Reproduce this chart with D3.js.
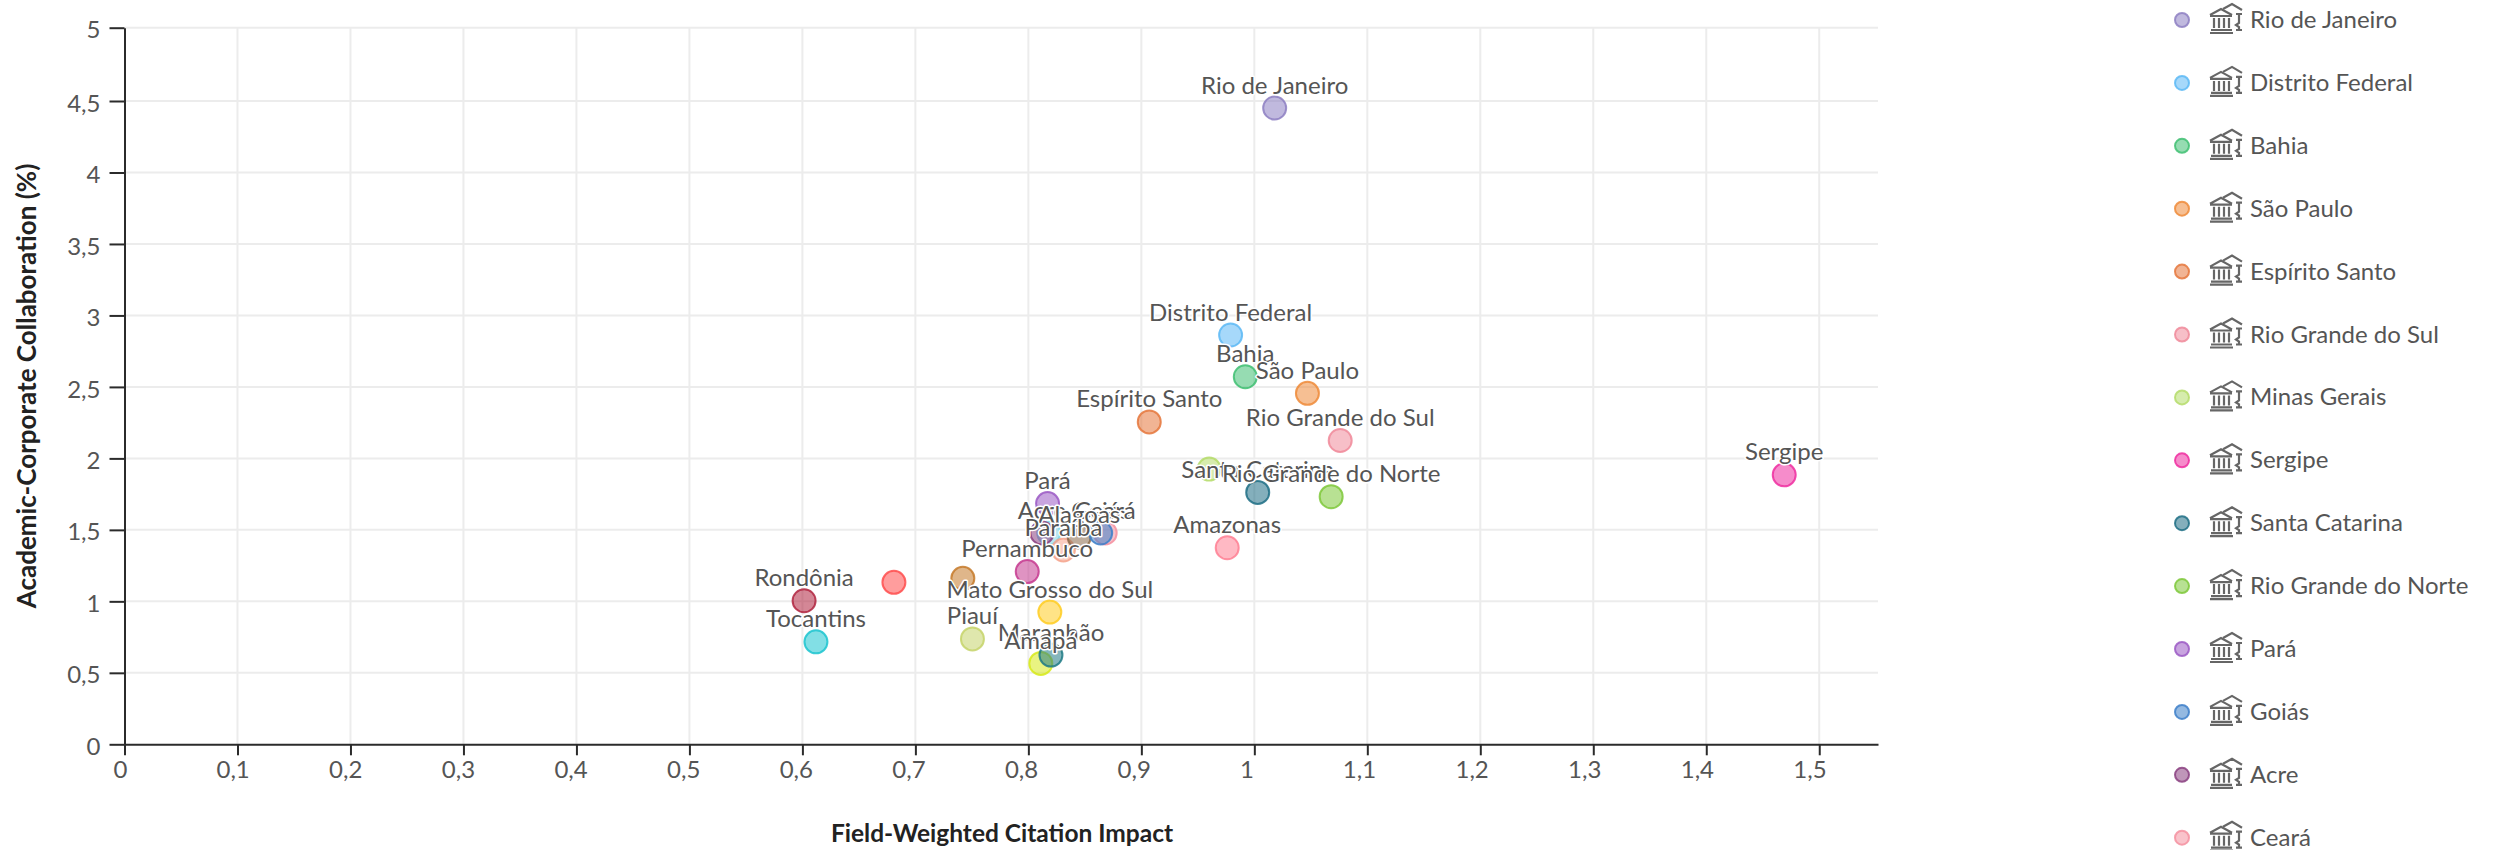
<!DOCTYPE html>
<html>
<head>
<meta charset="utf-8">
<script src="https://cdnjs.cloudflare.com/ajax/libs/d3/7.8.5/d3.min.js"></script>
<style>
  html, body { margin: 0; padding: 0; background: #fff; }
  svg { display: block; font-family: Lato, "Noto Sans", sans-serif; }
  .grid line { stroke: #ececec; stroke-width: 2; }
  .axis path, .axis line { stroke: #2b2b2b; stroke-width: 2; }
  .axis text { fill: #555; font-size: 24px; font-family: Lato, sans-serif; }
  .label { fill: #555; font-size: 24px; text-anchor: middle; paint-order: stroke; stroke: #fff; stroke-width: 3px; stroke-linejoin: round; }
  .title { fill: #222; font-weight: 700; text-anchor: middle; }
  .legend text { fill: #555; font-size: 24px; }
</style>
</head>
<body>
<div id="chart"></div>
<script>
const states = ['Rio de Janeiro', 'Distrito Federal', 'Bahia', 'São Paulo', 'Espírito Santo', 'Rio Grande do Sul', 'Minas Gerais', 'Sergipe', 'Santa Catarina', 'Rio Grande do Norte', 'Pará', 'Goiás', 'Acre', 'Ceará', 'Alagoas', 'Paraíba', 'Pernambuco', 'Amazonas', 'Rondônia', 'Tocantins', 'Mato Grosso do Sul', 'Piauí', 'Maranhão', 'Amapá', '', '', '']
// the picture hides some labels
const hiddenLabels = ['Minas Gerais']
const fwci = [1.018, 0.979, 0.992, 1.047, 0.907, 1.076, 0.96, 1.469, 1.003, 1.068, 0.817, 0.864, 0.812, 0.868, 0.845, 0.831, 0.799, 0.976, 0.6015, 0.612, 0.819, 0.7505, 0.82, 0.811, 0.681, 0.742, 0.818]
const collab = [4.451, 2.863, 2.571, 2.455, 2.255, 2.125, 1.925, 1.885, 1.762, 1.732, 1.684, 1.478, 1.478, 1.478, 1.45, 1.359, 1.208, 1.375, 1.004, 0.717, 0.925, 0.737, 0.624, 0.566, 1.133, 1.161, 1.478]
const colors = ['#8d7fc2', '#5cb8f5', '#3fbf72', '#ee8b3a', '#e5773c', '#f08a9a', '#b5dc6a', '#ee2ea0', '#1f6e85', '#7ec83a', '#9b59c4', '#3d7fc9', '#8a3f80', '#f491a0', '#8a6a4a', '#f5a38c', '#c53a8f', '#ff7f93', '#b0243f', '#1cc4cf', '#ffcc22', '#c5d36a', '#1f7a85', '#d7ea1a', '#ff4d4d', '#c57a2a', '#7fd3e6']
const xTicks = [0, 0.1, 0.2, 0.3, 0.4, 0.5, 0.6, 0.7, 0.8, 0.9, 1, 1.1, 1.2, 1.3, 1.4, 1.5]
const yTicks = [0, 0.5, 1, 1.5, 2, 2.5, 3, 3.5, 4, 4.5, 5]
const legendStates = states.slice(0, 14)

const width = 2495, height = 850
const comma = d => String(d).replace('.', ',')

const svg = d3.select('#chart').append('svg')
  .attr('width', width)
  .attr('height', height)

const x = d3.scaleLinear().domain([0, 1.552]).range([124.5, 1878])
// top band of the screenshot is a bit stretched, hence the extra stop
const y = d3.scaleLinear().domain([0, 4.5, 5]).range([744.3, 101, 27.7])

// grid
const grid = svg.append('g').attr('class', 'grid')
grid.selectAll('.v').data(xTicks.slice(1)).enter().append('line')
  .attr('x1', d => x(d)).attr('x2', d => x(d))
  .attr('y1', y(5)).attr('y2', y(0))
grid.selectAll('.h').data(yTicks.slice(1)).enter().append('line')
  .attr('x1', x.range()[0]).attr('x2', x.range()[1])
  .attr('y1', d => y(d)).attr('y2', d => y(d))

// axes
svg.append('g')
  .attr('class', 'axis')
  .attr('transform', `translate(0, ${y(0)})`)
  .call(d3.axisBottom(x).tickValues(xTicks).tickFormat(comma).tickSize(11).tickSizeOuter(0).tickPadding(6))
  .selectAll('text')
  .attr('dx', d => -4.5 - 3.5 * d)
svg.append('g')
  .attr('class', 'axis')
  .attr('transform', `translate(${x(0)}, 0)`)
  .call(d3.axisLeft(y).tickValues(yTicks).tickFormat(comma).tickSize(15).tickSizeOuter(0).tickPadding(9))
  .selectAll('text')
  .attr('dy', '0.42em')

svg.append('text').attr('class', 'title')
  .attr('x', 1002).attr('y', 842)
  .style('font-size', '24.5px')
  .text('Field-Weighted Citation Impact')
svg.append('text').attr('class', 'title')
  .attr('transform', 'translate(36, 386) rotate(-90)')
  .style('font-size', '26px')
  .text('Academic-Corporate Collaboration (%)')

// earlier series end up on top of later ones, labels sit above every marker
const order = d3.range(states.length).reverse()
svg.append('g').selectAll('circle').data(order).enter().append('circle')
  .attr('cx', i => x(fwci[i]))
  .attr('cy', i => y(collab[i]))
  .attr('r', 11.5)
  .attr('fill', i => colors[i])
  .attr('fill-opacity', 0.55)
  .attr('stroke', i => colors[i])
  .attr('stroke-opacity', 0.85)
  .attr('stroke-width', 2)

svg.append('g').selectAll('text').data(states).enter().append('text')
  .attr('class', 'label')
  .attr('x', (d, i) => x(fwci[i]))
  .attr('y', (d, i) => y(collab[i]) - 14.5)
  .text(d => hiddenLabels.includes(d) ? '' : d)

// legend
const defs = svg.append('defs').append('g').attr('id', 'bank')
  .attr('fill', 'none').attr('stroke', '#666').attr('stroke-width', 2.2)
defs.append('path').attr('d', 'M0 -6 L11 -12 L22 -6 M0 -5 H22 M4 -3 V7 M9 -3 V7 M14 -3 V7 M19 -3 V7 M1 9 H22 M0 12 H23')
defs.append('path').attr('d', 'M13 -12 L22 -17 L32 -11 M26 -7 H32 M29 -6 V2 L26 4 L29 6 V8 M26 9 H32')

const legend = svg.append('g').attr('class', 'legend')
const rows = legend.selectAll('g').data(legendStates).enter().append('g')
  .attr('transform', (d, i) => `translate(0, ${20 + i * 62.9})`)
rows.append('circle')
  .attr('cx', 2182).attr('r', 7)
  .attr('fill', (d, i) => colors[i]).attr('fill-opacity', 0.55)
  .attr('stroke', (d, i) => colors[i]).attr('stroke-opacity', 0.85).attr('stroke-width', 2)
rows.append('use').attr('href', '#bank').attr('x', 2210).attr('y', 1)
rows.append('text').attr('x', 2250).attr('y', 8).text(d => d)
</script>
</body>
</html>
